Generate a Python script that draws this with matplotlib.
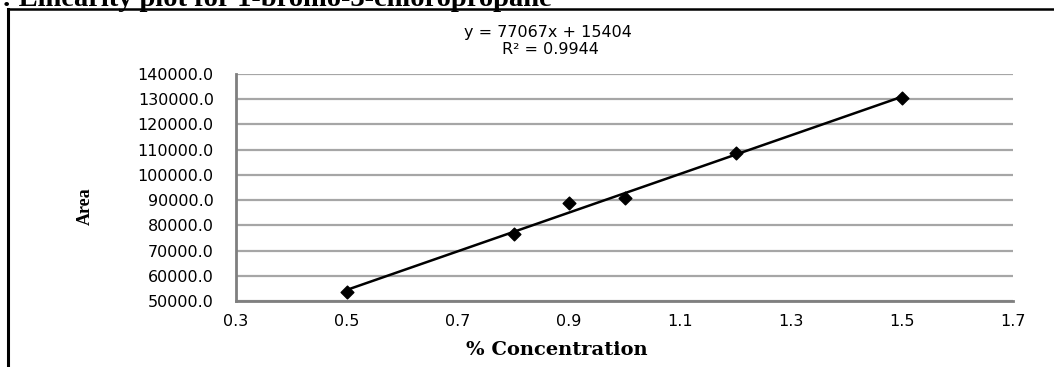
import numpy as np
import matplotlib
matplotlib.use('Agg')
import matplotlib.pyplot as plt
from matplotlib.lines import Line2D

# 数据
conc = [0.5, 0.8, 0.9, 1.0, 1.2, 1.5]
area = [53600.0, 76600.0, 88800.0, 90700.0, 108500.0, 130400.0]
x_ticks = [0.3, 0.5, 0.7, 0.9, 1.1, 1.3, 1.5, 1.7]
y_ticks = [50000, 60000, 70000, 80000, 90000, 100000, 110000, 120000, 130000, 140000]
eq_text = "y = 77067x + 15404"
r2_text = "R² = 0.9944"
title_text = ": Linearity plot for 1-bromo-3-chloropropane"

W, H = 1054, 367
fig = plt.figure(figsize=(W / 100, H / 100), dpi=100)
ax = fig.add_axes([236 / W, 1 - 301 / H, (1013 - 236) / W, (301 - 74) / H])

# 趋势线
k, b = np.polyfit(conc, area, 1)
x_line = np.array([min(conc), max(conc)])
ax.plot(x_line, k * x_line + b, color='black', lw=1.8, zorder=3)
ax.scatter(conc, area, marker='D', s=42, color='black', zorder=4)

ax.set_xlim(0.3, 1.7)
ax.set_ylim(50000, 140000)
ax.set_xticks(x_ticks)
ax.set_xticklabels(['%.1f' % v for v in x_ticks])
ax.set_yticks(y_ticks)
ax.set_yticklabels(['%.1f' % v for v in y_ticks])
ax.tick_params(length=0, labelsize=11.5, colors='black')
ax.tick_params(axis='y', pad=16)
ax.tick_params(axis='x', pad=9)
ax.grid(axis='y', color='#a6a6a6', lw=1.6)
ax.set_axisbelow(True)
for s in ['top', 'right']:
    ax.spines[s].set_visible(False)
for s in ['left', 'bottom']:
    ax.spines[s].set_color('#7f7f7f')
    ax.spines[s].set_linewidth(2)

fig.text(557 / W, 1 - 350 / H, "% Concentration", ha='center', va='center',
         family='DejaVu Serif', weight='bold', fontsize=14)
fig.text(85 / W, 1 - 206 / H, "Area", ha='center', va='center', rotation=90,
         family='Liberation Serif', weight='bold', fontsize=13)
fig.text(548 / W, 1 - 33 / H, eq_text, ha='center', va='center', fontsize=11.5)
fig.text(550 / W, 1 - 49 / H, r2_text, ha='center', va='center', fontsize=11.5)

# 截断的标题（原图上方被裁掉）
fig.text(2 / W, 1 - 6 / H, title_text, ha='left', va='baseline',
         family='Liberation Serif', weight='bold', fontsize=20.5)

# 外框
fig.add_artist(Line2D([8 / W, 1], [1 - 9 / H, 1 - 9 / H], color='black', lw=1.8,
                      transform=fig.transFigure))
fig.add_artist(Line2D([8 / W, 8 / W], [1 - 9 / H, 0], color='black', lw=2.2,
                      transform=fig.transFigure))

fig.savefig('out.png', dpi=100)
